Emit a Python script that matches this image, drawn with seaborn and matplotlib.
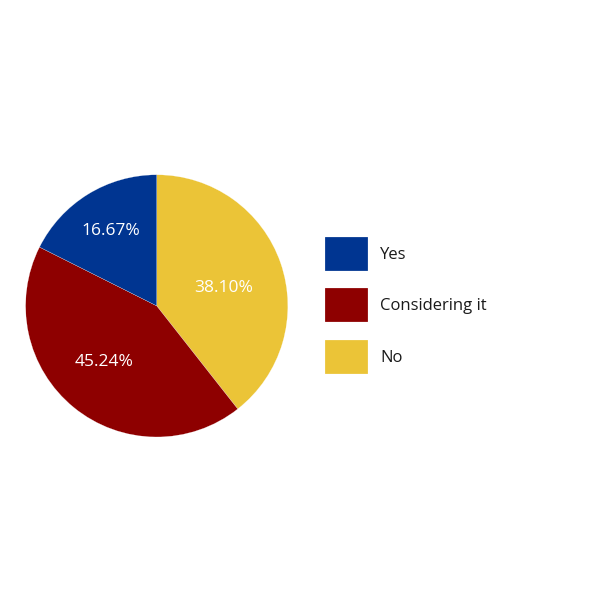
import matplotlib
matplotlib.use("Agg")
import matplotlib.pyplot as plt
import numpy as np
import seaborn as sns

# slices in drawing order (clockwise from 12 o'clock)
labels = ["No", "Considering it", "Yes"]
# slice sizes as drawn in the picture (share of the circle, %)
shares = [39.4, 43.0, 17.6]
# percentages printed on the slices
pct_text = ["38.10%", "45.24%", "16.67%"]
colors = ["#EBC437", "#8E0000", "#003591"]
legend_order = ["Yes", "Considering it", "No"]

sns.set_theme(style="white")
plt.rcParams["font.family"] = ["Open Sans", "DejaVu Sans"]

fig = plt.figure(figsize=(6, 6), dpi=100)
ax = fig.add_axes([0.0427, 0.2717, 0.437, 0.437])

wedges, _ = ax.pie(
    shares,
    colors=colors,
    startangle=90,
    counterclock=False,
    radius=1.0,
    wedgeprops=dict(linewidth=0.15, edgecolor="white"),
)
ax.set_xlim(-1, 1)
ax.set_ylim(-1, 1)
ax.set_aspect("equal")

# percentage labels, placed along each slice's middle
dists = [0.53, 0.585, 0.67]
nudge = [-4, -4, 0]
for w, s, d, n in zip(wedges, pct_text, dists, nudge):
    ang = np.deg2rad((w.theta1 + w.theta2) / 2 + n)
    ax.text(d * np.cos(ang), d * np.sin(ang), s, color="white",
            fontsize=12.5, ha="center", va="center")

handles = [wedges[labels.index(l)] for l in legend_order]
leg = fig.legend(
    handles, legend_order,
    loc="upper left",
    bbox_to_anchor=(325 / 600, 1 - 236.7 / 600),
    frameon=False,
    fontsize=12,
    handlelength=2.6,
    handleheight=2.76,
    handletextpad=0.7,
    labelspacing=1.06,
    borderpad=0,
    borderaxespad=0,
)
for t in leg.get_texts():
    t.set_color("#1a1a1a")

fig.savefig("out.png", dpi=100)
